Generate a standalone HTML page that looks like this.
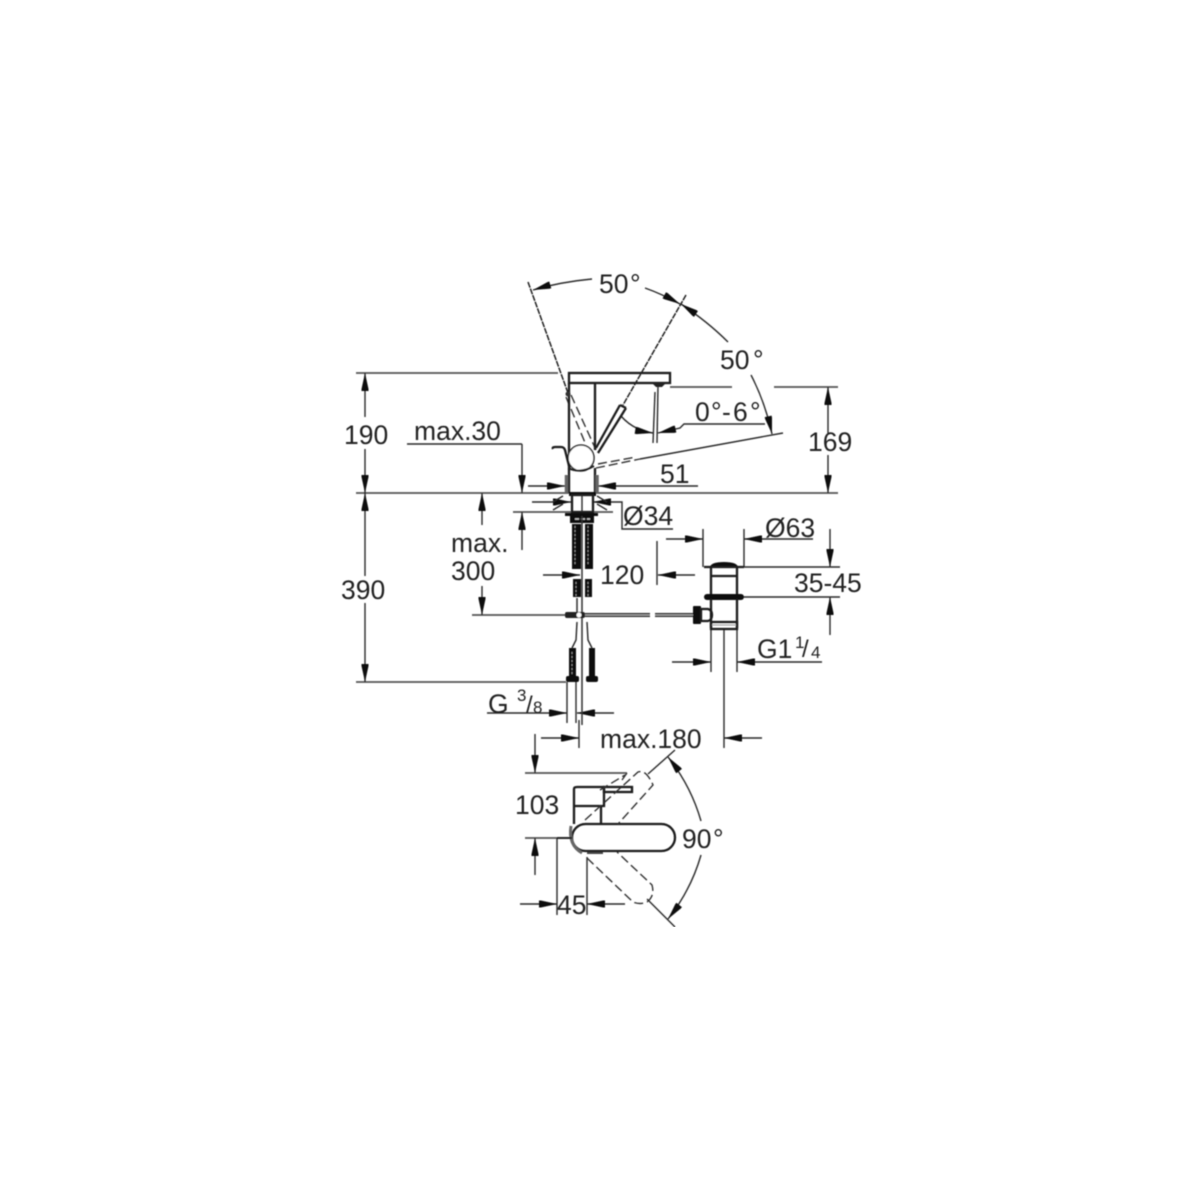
<!DOCTYPE html>
<html><head><meta charset="utf-8"><style>
html,body{margin:0;padding:0;background:#fff}
svg{display:block}
text{font-family:"Liberation Sans",sans-serif;font-size:26.500px;fill:#222}
.s{font-size:17px}
.l{stroke:#2a2a2a;stroke-width:1.400;fill:none}
.g{stroke:#555;stroke-width:1.700;fill:none}
.t{stroke:#1a1a1a;stroke-width:2.300;fill:none}
.h{stroke:#111;stroke-width:4;fill:none}
.d{stroke:#333;stroke-width:1.400;fill:none;stroke-dasharray:9 4}
.f{stroke:#222;stroke-width:1.500;fill:none;stroke-dasharray:6 1}
</style></head><body>
<svg width="1200" height="1200" viewBox="0 0 1200 1200" xmlns="http://www.w3.org/2000/svg">
<defs>
<marker id="a" markerUnits="userSpaceOnUse" markerWidth="20" markerHeight="10" viewBox="0 0 20 10" refX="19" refY="5" orient="auto"><path d="M19 5L3 1.500L1 1.500V8.500L3 8.500Z" fill="#111"/></marker>
<filter id="b" x="0" y="0" width="100%" height="100%"><feGaussianBlur stdDeviation="0.45"/></filter>
</defs>
<g filter="url(#b)">
<!-- main datum lines -->
<path class="g" d="M356 373H558M356 493H838M670 387H732M774 387H838M356 682H566M472 615H565M513 512H613M525 773H627M525 838H572"/>
<!-- left dimensions -->
<g class="l">
<line x1="365" y1="417" x2="365" y2="373" marker-end="url(#a)"/>
<line x1="365" y1="449" x2="365" y2="493" marker-end="url(#a)"/>
<line x1="365" y1="576" x2="365" y2="493" marker-end="url(#a)"/>
<line x1="365" y1="603" x2="365" y2="682" marker-end="url(#a)"/>
<line x1="482" y1="525" x2="482" y2="493" marker-end="url(#a)"/>
<line x1="482" y1="586" x2="482" y2="615" marker-end="url(#a)"/>
<line x1="522" y1="444" x2="522" y2="493" marker-end="url(#a)"/>
<line x1="522" y1="550" x2="522" y2="512" marker-end="url(#a)"/>
<line x1="528" y1="486" x2="565" y2="486" marker-end="url(#a)"/>
<line x1="698" y1="486" x2="598" y2="486" marker-end="url(#a)"/>
<line x1="532" y1="502" x2="571" y2="502" marker-end="url(#a)"/>
<line x1="612" y1="502" x2="593" y2="502" marker-end="url(#a)"/>
<line x1="543" y1="575" x2="580" y2="575" marker-end="url(#a)"/>
<line x1="695" y1="575" x2="658" y2="575" marker-end="url(#a)"/>
<line x1="666" y1="539" x2="703" y2="539" marker-end="url(#a)"/>
<line x1="813" y1="539" x2="744" y2="539" marker-end="url(#a)"/>
<line x1="830" y1="529" x2="830" y2="567" marker-end="url(#a)"/>
<line x1="830" y1="635" x2="830" y2="597" marker-end="url(#a)"/>
<line x1="672" y1="662" x2="711" y2="662" marker-end="url(#a)"/>
<line x1="822" y1="662" x2="737" y2="662" marker-end="url(#a)"/>
<line x1="487" y1="713" x2="567" y2="713" marker-end="url(#a)"/>
<line x1="614" y1="713" x2="577" y2="713" marker-end="url(#a)"/>
<line x1="762" y1="738" x2="724" y2="738" marker-end="url(#a)"/>
<line x1="541" y1="738" x2="579" y2="738" marker-end="url(#a)"/>
<line x1="535" y1="734" x2="535" y2="773" marker-end="url(#a)"/>
<line x1="535" y1="875" x2="535" y2="838" marker-end="url(#a)"/>
<line x1="520" y1="904" x2="557" y2="904" marker-end="url(#a)"/>
<line x1="625" y1="904" x2="587" y2="904" marker-end="url(#a)"/>
<line x1="828" y1="433" x2="828" y2="387" marker-end="url(#a)"/>
<line x1="828" y1="455" x2="828" y2="493" marker-end="url(#a)"/>
<path d="M592 279Q560 282 533 290" marker-end="url(#a)"/>
<path d="M645 288Q662 294 680 304" marker-end="url(#a)"/>
<path d="M728 342Q708 322 681 304" marker-end="url(#a)"/>
<path d="M751 375Q765 402 772 434" marker-end="url(#a)"/>
<path d="M621 416Q633 430 653 433" marker-end="url(#a)"/>
<path d="M765 424H684L680 428L658 433" marker-end="url(#a)"/>
<path d="M701 821Q691 786 668 757" marker-end="url(#a)"/>
<path d="M701 855Q691 890 668 919" marker-end="url(#a)"/>
</g>
<path class="l" d="M407 444H522M612 502H622V529H673M657 541V585M703 529V567M744 529V567M711 629V672M737 629V672M724 629V748M567 682V723M576 682V723M579 720V748M557 838V915M587 857V915M744 567H840M744 597H840"/>
<!-- angle radials -->
<path class="f" d="M528 282L568 393M686 295L623 405"/>
<path class="l" d="M640 459L783 433M675 750L648 774M675 927L647 899"/>
<path class="d" d="M596 468L640 459M571 395L596 450M566 397L586 445M598 464L636 457"/>
<!-- faucet -->
<rect x="569" y="373" width="101" height="10" class="t" fill="#fff"/>
<path class="t" d="M569 383V493M595 383V450M595 468V493"/>
<path stroke="#666" stroke-width="3.500" fill="none" d="M566.500 475V493M597 475V493"/>
<path fill="#222" d="M652 383H666L662 387H656Z"/>
<path class="l" d="M658 386L657 443M655 392L653 443"/>
<path class="t" d="M620 405L596 448M626 408L598 453M620 405L626 408"/>
<circle cx="581" cy="458" r="13" fill="#fff" stroke="#333" stroke-width="1.600"/>
<path class="t" d="M553 449Q552 447 555 447H561Q564 447 565 450L570 470"/>
<path stroke="#222" stroke-width="2" fill="none" d="M568 468Q580 474 594 466"/>
<circle cx="568" cy="394" r="2.500" fill="#333"/>
<!-- base -->
<path class="h" stroke-width="3" d="M569 494H596"/>
<rect x="572" y="495" width="21" height="17" class="t"/>
<path class="l" d="M582 495V512M553 502L563 496M553 510L563 504M597 496L607 502M597 504L607 510"/>
<rect x="565" y="513" width="33" height="3" fill="#111"/>
<rect x="570" y="516" width="24" height="7" fill="#111"/>
<path d="M575 519H590" stroke="#ccc" stroke-width="1.500" stroke-dasharray="4 2"/>
<!-- threaded hoses -->
<g fill="#111">
<rect x="572" y="524" width="9" height="45"/>
<rect x="585" y="524" width="8" height="45"/>
<rect x="573" y="579" width="8" height="18"/>
<rect x="585" y="579" width="7" height="18"/>
<rect x="569" y="648" width="7" height="30"/>
<rect x="589" y="648" width="6" height="30"/>
</g>
<path d="M575 526V566M588 526V566M576 582V596M588 582V596M572 652V675" stroke="#888" stroke-width="1" stroke-dasharray="2 2" fill="none"/>
<path stroke="#333" stroke-width="1.500" fill="none" d="M582 516V725M577 598V612M577 622L576 640L572 648M587 622L588 640L592 648"/>
<rect x="566" y="676" width="13" height="6" rx="2" fill="#111"/>
<rect x="586" y="676" width="12" height="6" rx="2" fill="#111"/>
<!-- connection rod -->
<rect x="565" y="612" width="20" height="6" rx="2" fill="#222"/>
<circle cx="579" cy="615" r="2.500" fill="#fff"/>
<path d="M585 615H650M655 615H693" stroke="#222" stroke-width="4" fill="none"/>
<path d="M585 615H650M655 615H693" stroke="#aaa" stroke-width="1.400" fill="none"/>
<!-- waste -->
<path d="M710 567Q711 562 724 562Q737 562 738 567Z" fill="#111"/>
<path class="t" d="M704 567H744M711 568V594M737 568V594M711 576H737"/>
<rect x="704" y="594" width="40" height="6" rx="3" fill="#111"/>
<path class="t" d="M711 599V628M737 599V628"/>
<rect x="711" y="622" width="26" height="7" class="t"/>
<path d="M712 625H736" stroke="#999"/>
<rect x="693" y="606" width="8" height="18" rx="1" fill="#111"/>
<path class="t" fill="#fff" d="M701 609H708Q712 610 712 615Q712 620 708 621H701Z"/>
<!-- top view -->
<path class="t" d="M574 824V789Q574 787 577 787H604V806H574M601 806V824"/>
<rect x="604" y="787" width="28" height="5" class="t"/>
<rect x="572" y="824" width="103" height="27" rx="13.500" class="t" fill="#fff"/>
<path d="M571 826Q568 845 582 853" stroke="#666" stroke-width="3" fill="none"/>
<path d="M587 852H603V854H587Z" fill="#444"/>
<path d="M557 838H572" stroke="#222" stroke-width="2"/>
<path class="d" d="M585 820L638 772Q646 769 653 785L618 824M600 790L625 775M627 773L622 780M587 858L633 902Q640 905 647 902Q655 896 652 885L617 852"/>
<!-- text -->
<text x="344" y="444">190</text>
<text x="341" y="599">390</text>
<text x="414" y="440">max.30</text>
<text x="451" y="552">max.</text>
<text x="451" y="580">300</text>
<text x="600" y="584">120</text>
<text x="660" y="483">51</text>
<text x="623" y="525">Ø34</text>
<text x="765" y="537">Ø63</text>
<text x="794" y="592">35-45</text>
<text x="757" y="658">G1</text>
<text class="s" x="795" y="648">1</text>
<text x="802" y="657" style="font-size:24px">/</text>
<text class="s" x="811" y="658">4</text>
<text x="488" y="713">G</text>
<text class="s" x="517" y="701">3</text>
<text x="526" y="713" style="font-size:24px">/</text>
<text class="s" x="533" y="713">8</text>
<text x="600" y="748">max.180</text>
<text x="515" y="814">103</text>
<text x="557" y="914">45</text>
<text x="682" y="848">90</text>
<text x="713" y="848">°</text>
<text x="599" y="293">50</text>
<text x="630" y="293">°</text>
<text x="720" y="369">50</text>
<text x="753" y="369">°</text>
<text x="695" y="421">0</text>
<text x="711" y="421">°</text>
<text x="722" y="421">-</text>
<text x="733" y="421">6</text>
<text x="750" y="421">°</text>
<text x="808" y="451">169</text>
</g>
</svg>
</body></html>
